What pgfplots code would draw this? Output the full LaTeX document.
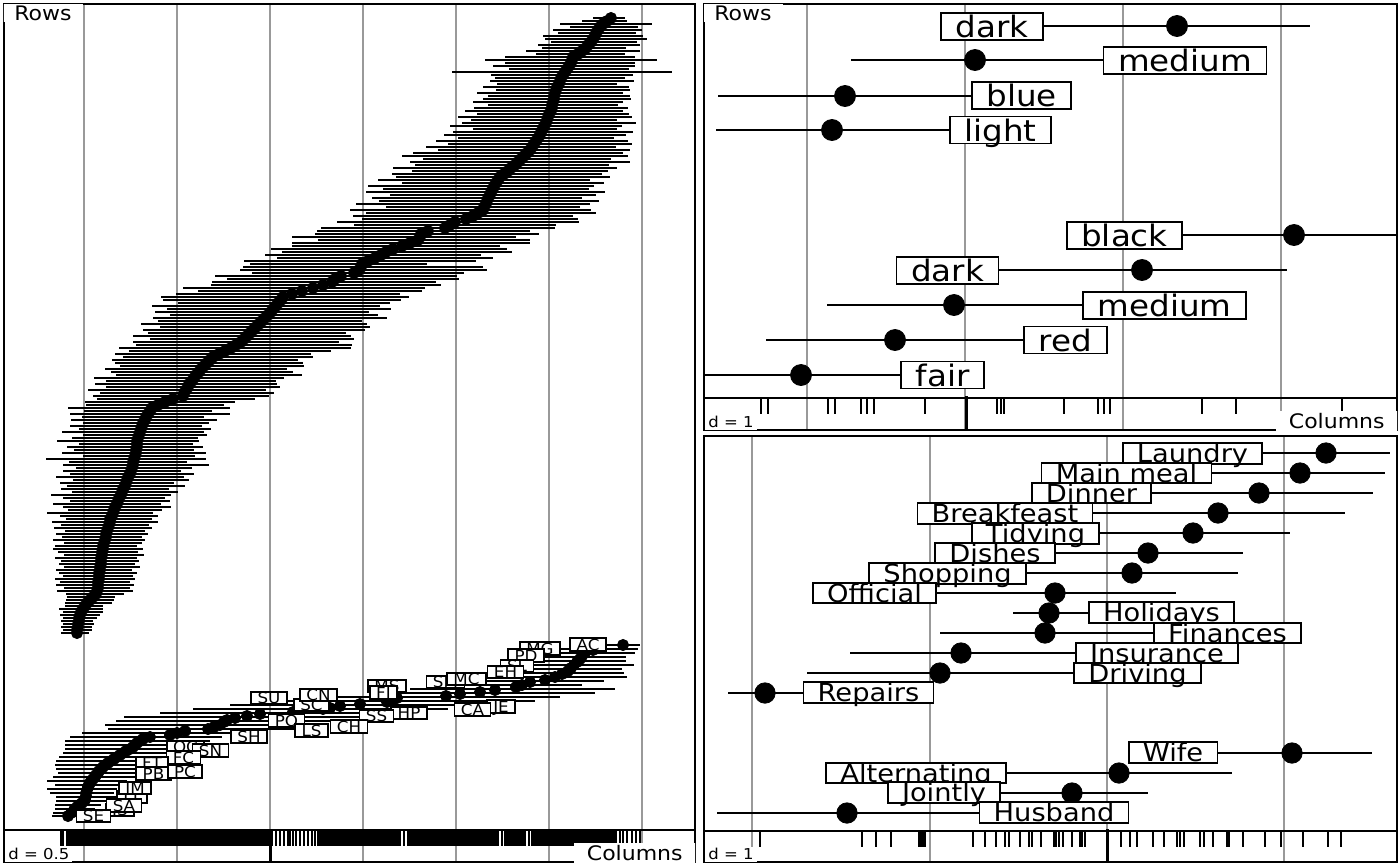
\documentclass[border=0pt]{standalone}
\usepackage{pgfplots}
\pgfplotsset{compat=1.18}
\usepackage{fontspec}
\setmainfont{DejaVu Sans}[FakeStretch=1.1]
\begin{document}
\begin{tikzpicture}
\useasboundingbox (-2pt,2pt) rectangle (698pt,-431pt);
\pgfplotsset{
 panel/.style={x=0.5pt,y=0.5pt,y dir=reverse,anchor=north west,
   axis line style={black,line width=0.75pt},ytick=\empty,xticklabels={},
   major tick length=0pt,xmajorgrids,grid style={gray!80,line width=0.6pt}},
 nomark/.style={only marks,mark=text,text mark={},mark options={draw=none,fill=none}},
 ci/.style={nomark,black,error bars/x dir=both,error bars/x explicit,
   error bars/error mark=none,error bars/error bar style={line width=#1,black}},
 rug/.style={nomark,black,error bars/y dir=plus,error bars/y fixed=16,
   error bars/error mark=none,error bars/error bar style={line width=#1,black}},
 lab/.style={nomark,nodes near coords,point meta=explicit symbolic,
   nodes near coords align=center,
   nodes near coords style={anchor=center,draw=black,fill=white,line width=0.85pt,#1}},
 dot/.style={only marks,mark=*,mark size=#1,mark options={fill=black,draw=black}},
}
% ================= LEFT PANEL =================
\begin{axis}[panel,at={(0pt,0pt)},xmin=4,xmax=695,ymin=4,ymax=862,
  xtick={84,177,270,363,456,549,642}]
\addplot[ci=0.9pt] table[x=x,y=y,x error minus=em,x error plus=ep]{
y x em ep
18 611 18 14
21 607 25 20
24 603 43 49
27 600 30 38
30 598 45 44
33 596 38 40
36 595 52 48
39 593 48 54
42 591 40 46
45 588 50 52
48 586 44 40
51 582 56 58
54 578 42 47
57 573 68 62
60 572 87 85
63 571 66 64
66 569 76 66
69 567 58 62
72 565 113 107
75 563 72 70
78 561 66 64
81 560 70 74
84 559 62 58
87 557 74 72
90 556 60 74
93 555 78 68
96 554 66 76
99 554 71 77
102 553 80 70
105 552 64 66
108 552 78 76
111 551 86 72
114 549 72 80
117 548 90 84
120 547 76 70
123 546 84 90
126 544 94 78
129 543 70 74
132 541 88 92
135 540 96 86
138 538 80 76
141 536 100 92
144 534 86 98
147 532 106 84
150 530 92 100
153 527 114 96
156 524 122 104
159 521 98 90
162 518 108 112
165 515 100 94
168 511 118 106
171 508 96 100
174 504 112 98
177 500 104 110
180 498 120 92
183 496 94 108
186 494 126 100
189 493 110 96
192 491 125 114
195 490 100 106
198 488 116 94
201 487 108 112
204 486 130 104
207 484 98 96
210 483 133 108
213 478 112 118
216 473 120 100
219 466 104 112
222 455 118 124
225 450 96 106
228 445 124 110
231 428 111 102
234 421 106 118
237 420 128 96
240 418 100 112
243 410 118 120
246 402 110 98
249 393 122 114
252 386 104 126
255 381 116 100
258 375 98 118
261 368 124 108
264 362 112 65
267 361 118 122
270 359 119 128
273 354 102 110
276 341 126 116
279 335 108 124
282 332 120 104
285 323 112 118
288 313 130 112
291 302 104 120
294 292 116 108
297 283 122 126
300 281 118 120
303 278 100 112
306 276 124 104
309 273 106 118
312 271 116 98
315 268 98 110
318 265 112 122
321 262 104 100
324 259 118 108
327 256 96 114
330 253 110 112
333 250 102 96
336 247 114 104
339 244 94 110
342 241 108 98
345 236 100 116
348 231 112 120
351 225 96 106
354 219 104 92
357 213 90 100
360 210 98 88
363 207 92 96
366 204 84 100
369 201 96 86
372 199 88 94
375 196 80 106
378 194 100 90
381 192 86 84
384 189 94 88
387 188 82 92
390 186 98 80
393 184 84 90
396 183 90 86
399 173 76 82
402 165 80 70
405 158 72 66
408 152 84 78
411 150 66 62
414 148 78 82
417 146 64 58
420 145 74 72
423 143 60 66
426 142 72 60
429 141 62 70
432 140 78 64
435 139 56 68
438 138 66 60
441 137 80 62
444 137 58 56
447 137 70 66
450 136 62 58
453 136 74 70
456 135 52 60
459 134 88 72
462 133 64 54
465 133 70 76
468 132 56 60
471 131 68 50
474 130 60 64
477 128 72 56
480 127 54 62
483 126 66 48
486 125 58 60
489 123 62 46
492 122 50 56
495 121 70 50
498 119 56 46
501 118 48 52
504 117 64 44
507 115 52 56
510 114 46 48
513 113 66 40
516 112 52 46
519 110 44 42
522 110 58 48
525 109 48 40
528 108 54 44
531 107 42 38
534 106 50 42
537 106 44 36
540 105 52 40
543 104 40 38
546 103 48 34
549 103 50 40
552 102 44 36
555 102 38 42
558 101 46 36
561 101 40 38
564 101 42 34
567 100 36 40
570 100 44 32
573 99 40 38
576 99 36 34
579 99 44 36
582 98 38 32
585 98 42 36
588 98 34 32
591 97 40 36
594 96 30 28
597 93 26 22
600 90 24 24
603 87 22 25
606 85 20 18
609 83 24 20
612 81 18 22
615 80 20 20
618 79 16 18
621 79 18 14
624 78 15 16
627 78 17 14
630 77 14 15
633 77 16 12
};
\addplot[ci=0.9pt] table[x=x,y=y,x error minus=em,x error plus=ep]{
y x em ep
645 623 16 17
649 596 48 42
653 585 45 50
657 581 60 45
661 578 65 48
665 574 58 60
669 570 70 52
673 564 75 60
677 555 68 72
681 540 80 64
685 522 90 60
689 505 95 110
693 470 100 125
697 420 110 140
701 390 120 145
705 350 120 145
709 323 130 125
713 280 120 135
717 241 117 120
721 226 110 110
725 220 115 95
729 208 100 95
733 177 95 90
737 150 80 72
741 140 75 70
745 135 70 68
749 130 65 62
753 123 60 55
757 117 58 56
761 111 55 52
765 105 50 48
769 101 45 46
773 98 40 44
777 95 42 40
781 91 44 36
785 89 34 36
789 87 40 30
793 86 36 28
797 86 30 30
801 84 28 26
805 79 24 22
809 75 20 20
813 71 18 18
816 68 16 18
};
\addplot[dot=2.8pt] table[x=x,y=y]{
y x
18 611
21 607
24 603
27 600
30 598
33 596
36 595
39 593
42 591
45 588
48 586
51 582
54 578
57 573
60 572
63 571
66 569
69 567
72 565
75 563
78 561
81 560
84 559
87 557
90 556
93 555
96 554
99 554
102 553
105 552
108 552
111 551
114 549
117 548
120 547
123 546
126 544
129 543
132 541
135 540
138 538
141 536
144 534
147 532
150 530
153 527
156 524
159 521
162 518
165 515
168 511
171 508
174 504
177 500
180 498
183 496
186 494
189 493
192 491
195 490
198 488
201 487
204 486
207 484
210 483
213 478
216 473
219 466
222 455
225 450
228 445
231 428
234 421
237 420
240 418
243 410
246 402
249 393
252 386
255 381
258 375
261 368
264 362
267 361
270 359
273 354
276 341
279 335
282 332
285 323
288 313
291 302
294 292
297 283
300 281
303 278
306 276
309 273
312 271
315 268
318 265
321 262
324 259
327 256
330 253
333 250
336 247
339 244
342 241
345 236
348 231
351 225
354 219
357 213
360 210
363 207
366 204
369 201
372 199
375 196
378 194
381 192
384 189
387 188
390 186
393 184
396 183
399 173
402 165
405 158
408 152
411 150
414 148
417 146
420 145
423 143
426 142
429 141
432 140
435 139
438 138
441 137
444 137
447 137
450 136
453 136
456 135
459 134
462 133
465 133
468 132
471 131
474 130
477 128
480 127
483 126
486 125
489 123
492 122
495 121
498 119
501 118
504 117
507 115
510 114
513 113
516 112
519 110
522 110
525 109
528 108
531 107
534 106
537 106
540 105
543 104
546 103
549 103
552 102
555 102
558 101
561 101
564 101
567 100
570 100
573 99
576 99
579 99
582 98
585 98
588 98
591 97
594 96
597 93
600 90
603 87
606 85
609 83
612 81
615 80
618 79
621 79
624 78
627 78
630 77
633 77
645 623
648 600
650 593
653 585
656 582
659 580
662 577
665 574
668 571
671 568
674 562
677 555
680 545
682 530
685 522
687 516
690 495
692 480
694 460
696 446
698 397
700 392
702 387
704 360
706 340
708 330
709 323
711 300
712 293
714 260
716 247
718 235
720 227
722 224
725 220
727 214
729 208
731 185
733 177
735 170
737 150
739 143
741 140
743 137
745 135
747 133
749 130
751 126
753 123
755 120
757 117
759 114
761 111
763 108
765 105
767 103
769 101
771 99
773 98
775 96
777 95
779 93
781 91
783 90
785 89
787 88
790 87
793 86
796 86
800 85
803 82
805 79
807 77
810 74
813 71
816 68
};
\addplot[lab={font=\fontsize{7.6}{9}\selectfont,text height=5.5pt,text depth=0pt,inner xsep=3.2pt,inner ysep=0.35pt}]
 table[x=x,y=y,meta=label]{
x y label
540 648.5 MG
526 655.5 PD
517 666 SL
505.5 672 EH
588 644.5 AC
445.5 682 SM
466.5 679 MC
387 686 MS
383.5 692.5 FI
501 706.5 JE
472.5 709.5 CA
409 713 HP
376.5 716 SS
311.5 705 SC
318.5 695 CN
269 698 SU
286.5 720.5 PO
311.5 730.5 LS
349 726.5 CH
249 736.5 SH
185.5 747 OC
210.5 750.5 SN
183.5 757.5 FC
152 763 FT
153.5 773.5 PB
185 771.5 PC
132 797 LT
135 788 IM
120 810 IS
124 805.5 SA
93.5 816 SE
};
% rug
\addplot[black,line width=0.8pt] coordinates {(4,830)(695,830)};
\addplot[rug=0.8pt] table[x=x,y expr=830,row sep=\\]{
x\\61\\63\\67\\69\\71\\73\\75\\77\\79\\81\\83\\85\\87\\89\\91\\93\\95\\97\\99\\101\\103\\105\\107\\109\\111\\113\\115\\117\\119\\121\\123\\125\\127\\129\\131\\133\\135\\137\\139\\141\\143\\145\\147\\149\\151\\153\\155\\157\\159\\161\\163\\165\\167\\169\\171\\173\\175\\177\\179\\181\\183\\185\\187\\189\\191\\193\\195\\197\\199\\201\\203\\205\\207\\209\\211\\213\\215\\217\\219\\221\\223\\225\\227\\229\\231\\233\\235\\237\\239\\241\\243\\245\\247\\249\\251\\253\\255\\257\\259\\261\\263\\265\\267\\269\\272\\276\\280\\284\\288\\290\\293\\296\\300\\304\\308\\312\\315\\318\\320\\322\\324\\326\\328\\330\\332\\334\\336\\338\\340\\342\\344\\346\\348\\350\\352\\354\\356\\358\\360\\362\\364\\366\\368\\370\\372\\374\\376\\378\\380\\382\\384\\386\\388\\390\\392\\394\\396\\398\\400\\404\\408\\410\\412\\414\\416\\418\\420\\422\\424\\426\\428\\430\\432\\434\\436\\438\\440\\442\\444\\446\\448\\450\\452\\454\\456\\458\\460\\462\\464\\466\\468\\470\\472\\474\\476\\478\\480\\482\\484\\486\\488\\490\\492\\494\\496\\498\\502\\505\\507\\509\\511\\513\\515\\517\\519\\521\\523\\525\\529\\532\\534\\536\\538\\540\\542\\544\\546\\548\\550\\552\\554\\556\\558\\560\\562\\564\\566\\568\\570\\572\\574\\576\\578\\580\\582\\584\\586\\588\\590\\592\\594\\596\\598\\600\\602\\604\\606\\608\\610\\612\\614\\616\\620\\623\\627\\632\\636\\640\\
};
\addplot[black,line width=1.5pt] coordinates {(270,829)(270,862)};
\node[anchor=north west,fill=white,inner xsep=5.5pt,inner ysep=1pt,text height=7.3pt,text depth=0pt,
  font=\fontsize{10}{11}\selectfont] at (axis cs:3,3) {Rows};
\node[anchor=south east,fill=white,inner xsep=6.5pt,inner ysep=1.2pt,text height=7.3pt,text depth=0pt,
  font=\fontsize{10}{11}\selectfont] at (axis cs:696,863) {Columns};
\node[anchor=south west,fill=white,inner xsep=1.5pt,inner ysep=0.8pt,
  font=\fontsize{7.5}{9}\selectfont] at (axis cs:5,862) {d = 0.5};
\end{axis}
% ================= TOP RIGHT PANEL =================
\begin{axis}[panel,at={(350pt,0pt)},xmin=704,xmax=1397,ymin=4,ymax=430,
  xtick={807,965,1123,1281}]
\addplot[ci=1pt] table[x=x,y=y,x error minus=em,x error plus=ep]{
y x em ep
26 1177 177 133
60 975 124 175
96 845 127 155
130 832 116 168
235 1294 174 110
270 1142 192 145
305 954 127 196
340 895 129 165
375 801 111 129
};
\addplot[dot=5.25pt] table[x=x,y=y]{
y x
26 1177
60 975
96 845
130 832
235 1294
270 1142
305 954
340 895
375 801
};
\addplot[lab={font=\fontsize{14.8}{17}\selectfont,text height=11.2pt,text depth=0pt,inner xsep=7.3pt,inner ysep=1.15pt}]
 table[x=x,y=y,meta=label]{
x y label
992 26.5 dark
1185 60.5 medium
1021.5 95.5 blue
1000.5 130 light
1124.5 235.5 black
947.5 270.5 dark
1164.5 305.5 medium
1065.5 340 red
942.5 375 fair
};
\addplot[black,line width=0.8pt] coordinates {(704,398)(1397,398)};
\addplot[rug=0.75pt] table[x=x,y expr=398,row sep=\\]{
x\\761\\768\\828\\835\\861\\867\\874\\925\\997\\1001\\1004\\1064\\1098\\1104\\1110\\1202\\1236\\1342\\
};
\addplot[black,line width=1.5pt] coordinates {(966,396)(966,430)};
\node[anchor=north west,fill=white,inner xsep=5.5pt,inner ysep=1pt,text height=7.3pt,text depth=0pt,
  font=\fontsize{10}{11}\selectfont] at (axis cs:703,3) {Rows};
\node[anchor=south east,fill=white,inner xsep=6.5pt,inner ysep=1.2pt,text height=7.3pt,text depth=0pt,
  font=\fontsize{10}{11}\selectfont] at (axis cs:1398,431) {Columns};
\node[anchor=south west,fill=white,inner xsep=1.5pt,inner ysep=0.8pt,
  font=\fontsize{7.5}{9}\selectfont] at (axis cs:705,430) {d = 1};
\end{axis}
% ================= BOTTOM RIGHT PANEL =================
\begin{axis}[panel,at={(350pt,-216pt)},xmin=704,xmax=1397,ymin=436,ymax=862,
  xtick={752,930,1107,1284}]
\addplot[ci=1pt] table[x=x,y=y,x error minus=em,x error plus=ep]{
y x em ep
453 1326 126 64
473 1300 150 85
493 1259 159 114
513 1218 168 127
533 1193 143 97
553 1148 148 95
573 1132 152 106
593 1055 155 121
613 1049 36 71
633 1045 105 135
653 961 111 139
673 940 133 160
693 765 37 65
753 1292 112 80
773 1119 159 113
793 1072 122 76
813 847 130 153
};
\addplot[dot=5.1pt] table[x=x,y=y]{
y x
453 1326
473 1300
493 1259
513 1218
533 1193
553 1148
573 1132
593 1055
613 1049
633 1045
653 961
673 940
693 765
753 1292
773 1119
793 1072
813 847
};
\addplot[lab={font=\fontsize{12.4}{14}\selectfont,text height=9.4pt,text depth=0pt,inner xsep=7.1pt,inner ysep=0.42pt}]
 table[x=x,y=y,meta=label]{
x y label
1192.5 453.5 Laundry
1126.5 473 {Main meal}
1091.5 493 Dinner
1005 513.5 Breakfeast
1035.5 533.5 Tidying
995 553 Dishes
947.5 573.5 Shopping
874.5 593 Official
1161.5 612.5 Holidays
1227.5 633 Finances
1157 653 Insurance
1137.5 673 Driving
868.5 692.5 Repairs
1173 752.5 Wife
916 773 Alternating
944 792.5 Jointly
1054 812.5 Husband
};
\addplot[black,line width=0.8pt] coordinates {(704,831)(1397,831)};
\addplot[rug=0.75pt] table[x=x,y expr=831,row sep=\\]{
x\\760\\862\\876\\891\\919\\921\\923\\925\\973\\985\\996\\1005\\1009\\1020\\1029\\1032\\1041\\1054\\1056\\1059\\1063\\1072\\1080\\1082\\1085\\1121\\1130\\1137\\1153\\1164\\1177\\1180\\1184\\1200\\1204\\1213\\1227\\1229\\1243\\1265\\1281\\1303\\1328\\1341\\
};
\addplot[black,line width=1.5pt] coordinates {(1107,829)(1107,862)};
\node[anchor=south west,fill=white,inner xsep=1.5pt,inner ysep=0.8pt,
  font=\fontsize{7.5}{9}\selectfont] at (axis cs:705,862) {d = 1};
\end{axis}
\end{tikzpicture}
\end{document}
